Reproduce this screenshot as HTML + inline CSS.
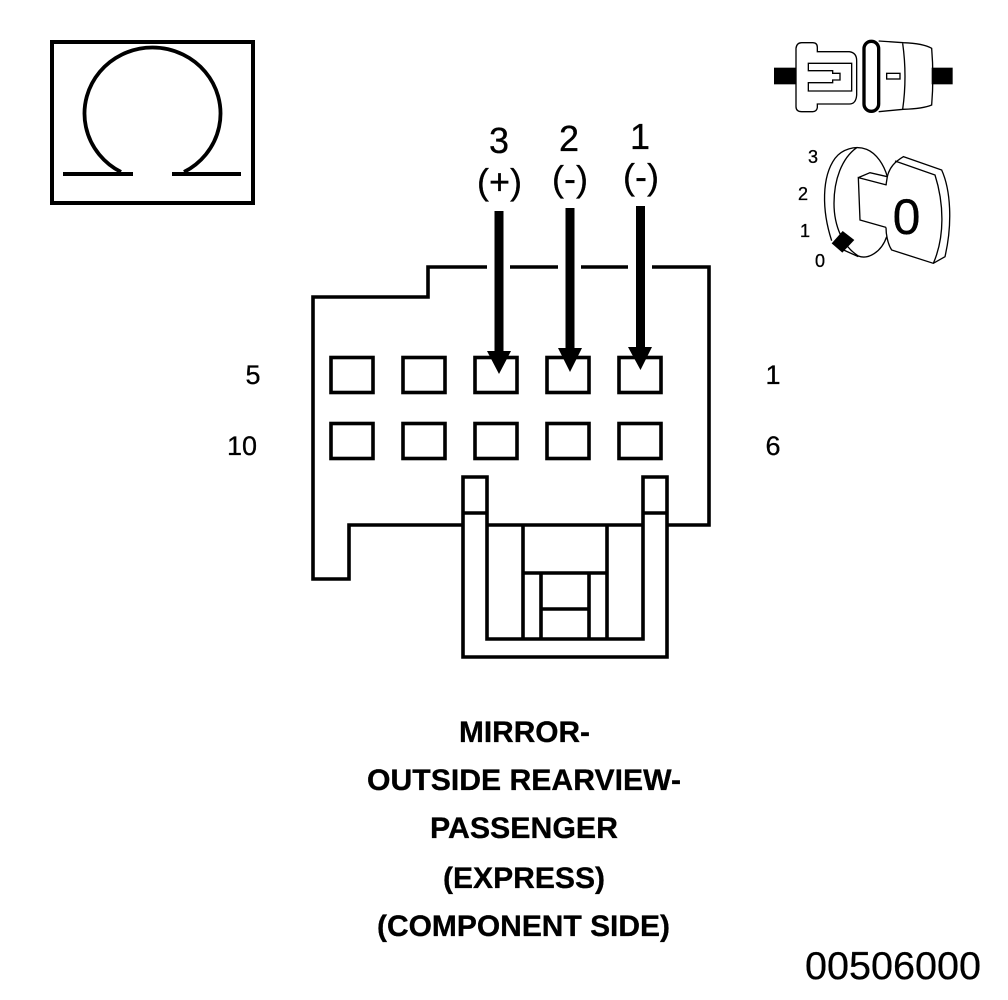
<!DOCTYPE html>
<html>
<head>
<meta charset="utf-8">
<style>
html,body{margin:0;padding:0;background:#fff;width:1008px;height:1000px;overflow:hidden}
svg{display:block}
text{font-family:"Liberation Sans",Arial,sans-serif;fill:#000;stroke:#000;stroke-width:.3px}
</style>
</head>
<body>
<svg width="1008" height="1000" viewBox="0 0 1008 1000" xmlns="http://www.w3.org/2000/svg">
<rect width="1008" height="1000" fill="#fff"/>

<!-- Omega -->
<g fill="none" stroke="#000" stroke-width="4">
<rect x="52" y="42" width="201" height="161"/>
<path d="M121 172 A68 66 0 1 1 184 172" stroke-width="3.8"/>
<path d="M63 174H133M172 174H241"/>
</g>

<!-- Connector outline -->
<g fill="none" stroke="#000" stroke-width="3.6">
<path d="M487 267H428V297H313V579H349V525H463"/>
<path d="M510 267H558M581 267H628M652 267H709V525H667"/>
<g>
<rect x="331" y="357.500" width="42" height="35"/><rect x="403" y="357.500" width="42" height="35"/><rect x="475" y="357.500" width="42" height="35"/><rect x="547" y="357.500" width="42" height="35"/><rect x="619" y="357.500" width="42" height="35"/>
<rect x="331" y="423.500" width="42" height="35"/><rect x="403" y="423.500" width="42" height="35"/><rect x="475" y="423.500" width="42" height="35"/><rect x="547" y="423.500" width="42" height="35"/><rect x="619" y="423.500" width="42" height="35"/>
</g>
<path d="M463 477H487V639H643V477H667V657H463Z"/>
<path d="M463 513H487M643 513H667M487 525H643M523 525V639M607 525V639M523 573H607M541 573V639M589 573V639M541 609H589"/>
</g>

<!-- Arrows -->
<g fill="#000">
<rect x="494.500" y="211" width="9" height="145"/><path d="M487 351H511L499 374Z"/>
<rect x="565.500" y="208" width="9" height="145"/><path d="M558 348H582L570 372Z"/>
<rect x="636" y="206" width="9" height="145"/><path d="M628 347H652L640.500 370Z"/>
</g>

<!-- Pin labels -->
<g font-size="36" text-anchor="middle">
<text x="499" y="153">3</text><text x="569" y="151">2</text><text x="640" y="149">1</text>
<text x="499.500" y="194">(+)</text><text x="570" y="191">(-)</text><text x="641" y="189">(-)</text>
</g>
<g font-size="27" text-anchor="middle">
<text x="253" y="384">5</text><text x="242" y="455">10</text><text x="773" y="384">1</text><text x="773" y="455">6</text>
</g>

<!-- Title -->
<g font-size="29.300" font-weight="700">
<text x="459" y="742" textLength="131" lengthAdjust="spacingAndGlyphs">MIRROR-</text>
<text x="367" y="790" textLength="314" lengthAdjust="spacingAndGlyphs">OUTSIDE REARVIEW-</text>
<text x="430" y="838" textLength="188" lengthAdjust="spacingAndGlyphs">PASSENGER</text>
<text x="443" y="888" textLength="162" lengthAdjust="spacingAndGlyphs">(EXPRESS)</text>
<text x="377" y="936" textLength="293" lengthAdjust="spacingAndGlyphs">(COMPONENT SIDE)</text>
</g>
<text x="805" y="979" font-size="39" textLength="176" lengthAdjust="spacingAndGlyphs">00506000</text>

<!-- Plug icon -->
<g transform="translate(760 30) scale(.33333)">
<rect x="42" y="113" width="66" height="50" fill="#000"/>
<rect x="515" y="113" width="63" height="50" fill="#000"/>
<g fill="none" stroke="#000" stroke-width="4">
<path d="M108 55Q110 38 125 38H158Q172 38 172 52V65H268Q290 68 290 92V195Q288 222 268 222H172V233Q170 245 158 245H125Q108 245 108 230Z"/>
<path d="M275 100H145V122H218V130H240V150H218V158H145V183H275Z"/>
<path d="M356 33L430 38Q490 40 515 55Q522 140 515 225Q490 236 430 238L356 245"/>
<path d="M428 40Q442 140 428 238"/>
<rect x="380" y="130" width="40" height="17"/>
<rect x="312" y="34" width="44" height="210" rx="22" stroke-width="10"/>
</g>
</g>

<!-- Key icon -->
<g transform="translate(760 30) scale(.33333)" fill="none" stroke="#000" stroke-width="4">
<path d="M215 632C185 540 185 440 225 385C245 358 285 345 320 358C350 370 372 405 382 440"/>
<path d="M290 353C245 385 222 450 222 520C222 590 250 650 295 678C325 690 365 665 380 620"/>
<path d="M240 655L295 680"/>
<path d="M380 465L295 443L300 570L378 592"/>
<path d="M295 443L330 428L382 440L378 465"/>
<path d="M382 440C388 412 405 395 430 380L545 420C572 480 578 580 555 680L520 700L395 660C382 640 378 610 378 592"/>
<path d="M405 393L525 435C552 520 555 620 520 700"/>
<path d="M248 603L283 630L247 668L215 640Z" fill="#000" stroke="none"/>
</g>
<g font-size="18" text-anchor="middle">
<text x="813" y="163">3</text><text x="803" y="200">2</text><text x="805" y="237">1</text><text x="820" y="267">0</text>
</g>
<text x="906.500" y="234" font-size="50" text-anchor="middle">0</text>
</svg>
</body>
</html>
